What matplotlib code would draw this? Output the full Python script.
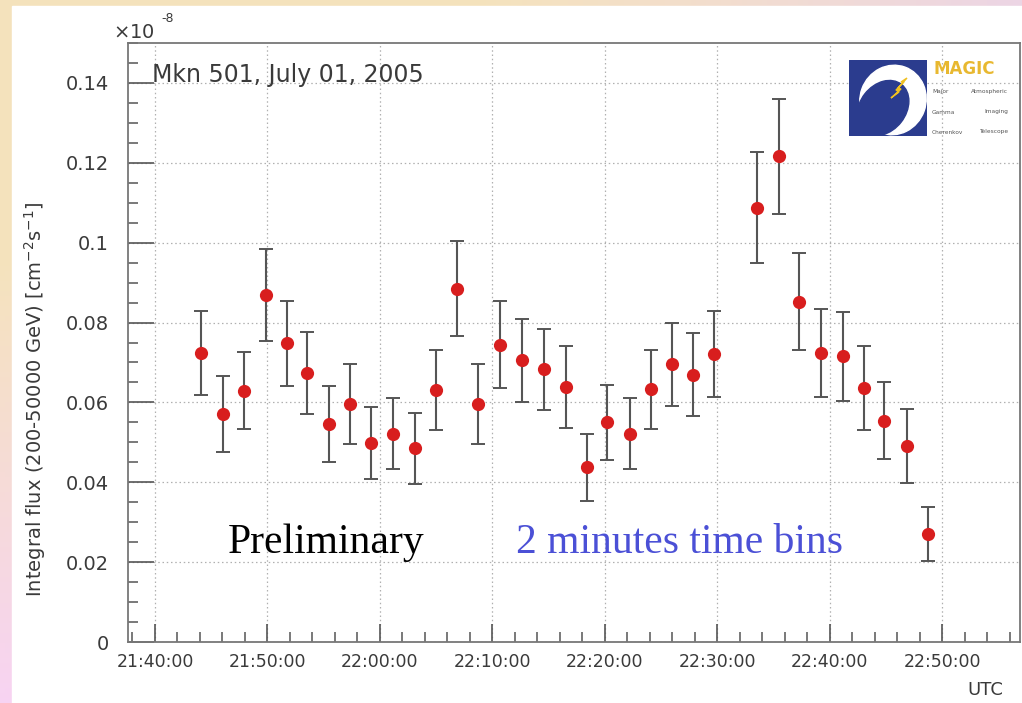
import numpy as np
import matplotlib
matplotlib.use("Agg")
import matplotlib.pyplot as plt
import matplotlib.dates as mdates
from matplotlib.ticker import MultipleLocator, FuncFormatter
from matplotlib.patches import Rectangle, Ellipse, Polygon
from datetime import datetime

# Mkn 501 light curve, 1 July 2005 (flux in units of 1e-8 cm^-2 s^-1)
times = ["21:44:05", "21:46:01", "21:47:55", "21:49:52", "21:51:42", "21:53:32",
         "21:55:28", "21:57:20", "21:59:10", "22:01:08", "22:03:07", "22:04:57",
         "22:06:49", "22:08:44", "22:10:38", "22:12:36", "22:14:35", "22:16:32",
         "22:18:22", "22:20:12", "22:22:13", "22:24:04", "22:25:56", "22:27:51",
         "22:29:43", "22:33:31", "22:35:28", "22:37:16", "22:39:12", "22:41:08",
         "22:43:00", "22:44:50", "22:46:49", "22:48:41"]
flux = [0.0723, 0.0571, 0.0629, 0.0869, 0.0748, 0.0673, 0.0547, 0.0596, 0.0498,
        0.0522, 0.0485, 0.0631, 0.0885, 0.0596, 0.0744, 0.0706, 0.0683, 0.0639,
        0.0437, 0.0550, 0.0521, 0.0633, 0.0696, 0.0669, 0.0721, 0.1088, 0.1216,
        0.0852, 0.0724, 0.0715, 0.0636, 0.0554, 0.0491, 0.0271]
flux_err = [0.0105, 0.0094, 0.0096, 0.0116, 0.0107, 0.0103, 0.0095, 0.0099, 0.0090,
            0.0089, 0.0089, 0.0099, 0.0118, 0.0099, 0.0109, 0.0104, 0.0102, 0.0102,
            0.0083, 0.0094, 0.0089, 0.0099, 0.0104, 0.0104, 0.0108, 0.0138, 0.0145,
            0.0121, 0.0111, 0.0112, 0.0104, 0.0096, 0.0092, 0.0068]
x_range = ["21:37:36", "22:56:54"]


def utc(s):
    return datetime.strptime("2005-07-01 " + s, "%Y-%m-%d %H:%M:%S")


W, H = 1022, 703
fig = plt.figure(figsize=(W / 100, H / 100), dpi=100)

# slide-style backdrop: warm yellow at the top left, lavender right, pink lower left
bg = fig.add_axes([0, 0, 1, 1], zorder=-10)
gx, gy = np.meshgrid(np.linspace(0, 1, 200), np.linspace(0, 1, 140))
yellow = np.array([0.96, 0.89, 0.74])
lav = np.array([0.91, 0.81, 0.97])
pink = np.array([0.97, 0.83, 0.95])
wy = np.clip((1 - gx * 0.8) * (1 - gy) * 1.6, 0, 1)[..., None]
wl = np.clip(gx, 0, 1)[..., None]
img = yellow * wy + (lav * wl + pink * (1 - wl)) * (1 - wy)
bg.imshow(img, extent=[0, 1, 0, 1], aspect="auto", origin="upper")
bg.add_patch(Rectangle((12 / W, 0), 1, 1 - 6 / H, color="white", zorder=2))
bg.set_xlim(0, 1)
bg.set_ylim(0, 1)
bg.axis("off")

plt.rcParams["font.family"] = ["DejaVu Sans"]
txt = "#3a3a3a"

ax = fig.add_axes([128 / W, 1 - 642 / H, (1020 - 128) / W, (642 - 43) / H])
t = [utc(s) for s in times]
ax.errorbar(t, flux, yerr=flux_err, fmt="none", ecolor="#555555", elinewidth=1.5,
            capsize=5, capthick=1.4, zorder=3)
ax.plot(t, flux, "o", color="#d81e1e", markersize=9.5, markeredgewidth=0, zorder=4)

ax.set_xlim(utc(x_range[0]), utc(x_range[1]))
ax.set_ylim(0, 0.15)
ax.xaxis.set_major_locator(mdates.MinuteLocator(byminute=range(0, 60, 10)))
ax.xaxis.set_minor_locator(mdates.MinuteLocator(byminute=range(0, 60, 2)))
ax.xaxis.set_major_formatter(mdates.DateFormatter("%H:%M:%S"))
ax.yaxis.set_major_locator(MultipleLocator(0.02))
ax.yaxis.set_minor_locator(MultipleLocator(0.005))
ax.yaxis.set_major_formatter(FuncFormatter(lambda v, p: "0" if abs(v) < 1e-9 else f"{v:g}"))

ax.tick_params(axis="x", which="major", direction="in", length=13, width=1.2,
               color="#555555", labelsize=12.5, labelcolor=txt, pad=8)
ax.tick_params(axis="x", which="minor", direction="in", length=7, width=1.1,
               color="#555555")
ax.tick_params(axis="y", which="major", direction="in", length=19, width=1.2,
               color="#555555", labelsize=14, labelcolor=txt, pad=14)
ax.tick_params(axis="y", which="minor", direction="in", length=7.5, width=1.1,
               color="#555555")
for sp in ax.spines.values():
    sp.set_color("#777777")
    sp.set_linewidth(1.3)

ax.grid(True, which="major", linestyle=(0, (1.2, 2.2)), color="#b0b0b0", linewidth=0.9)
ax.set_axisbelow(True)

ax.set_ylabel(r"Integral flux (200-50000 GeV) [cm$^{-2}$s$^{-1}$]", fontsize=14,
              color=txt)
ax.yaxis.set_label_coords(-0.09, 0.405)
fig.text(985 / W, 1 - 690 / H, "UTC", fontsize=13, color=txt, ha="center", va="center")
fig.text(113 / W, 1 - 32 / H, r"$\times$10", fontsize=14, color=txt, ha="left", va="center")
fig.text(161 / W, 1 - 19 / H, "-8", fontsize=9, color=txt, ha="left", va="center")

ax.text(152 / W, 1 - 75 / H, "Mkn 501, July 01, 2005", transform=fig.transFigure,
        fontsize=17, color=txt, ha="left", va="center")

fig.text(228 / W, 1 - 553 / H, "Preliminary", family="Liberation Serif",
         fontsize=30, color="black", ha="left", va="baseline")
fig.text(516 / W, 1 - 553 / H, "2 minutes time bins", family="Liberation Serif",
         fontsize=30, color="#4b50d6", ha="left", va="baseline")

# MAGIC telescope logo
lg = fig.add_axes([849 / W, 1 - 136 / H, 78 / W, 76 / H])
lg.set_xlim(0, 78)
lg.set_ylim(0, 76)
lg.axis("off")
lg.add_patch(Rectangle((0, 0), 78, 76, color="#2b3c8e"))
lg.add_patch(Ellipse((44, 36), 66, 70, angle=-20, color="white"))
lg.add_patch(Ellipse((34, 28), 46, 60, angle=-38, color="#2b3c8e"))
lg.add_patch(Polygon([[42, 38], [50, 44], [47, 46], [55, 54], [52, 54], [58, 58],
                      [49, 48], [52, 47]], closed=True, color="#f0c020"))
fig.text(933 / W, 1 - 69 / H, "MAGIC", fontsize=12, weight="bold", color="#e8b830",
         ha="left", va="center")
for i, (a, b) in enumerate([("Major", "Atmospheric"), ("Gamma", "Imaging"),
                            ("Cherenkov", "Telescope")]):
    yy = 1 - (92 + 20 * i) / H
    fig.text(932 / W, yy, a, fontsize=4.2, color="#555555", ha="left", va="center")
    fig.text(1008 / W, yy, b, fontsize=4.2, color="#555555", ha="right", va="center")

fig.savefig("out.png", dpi=100)
